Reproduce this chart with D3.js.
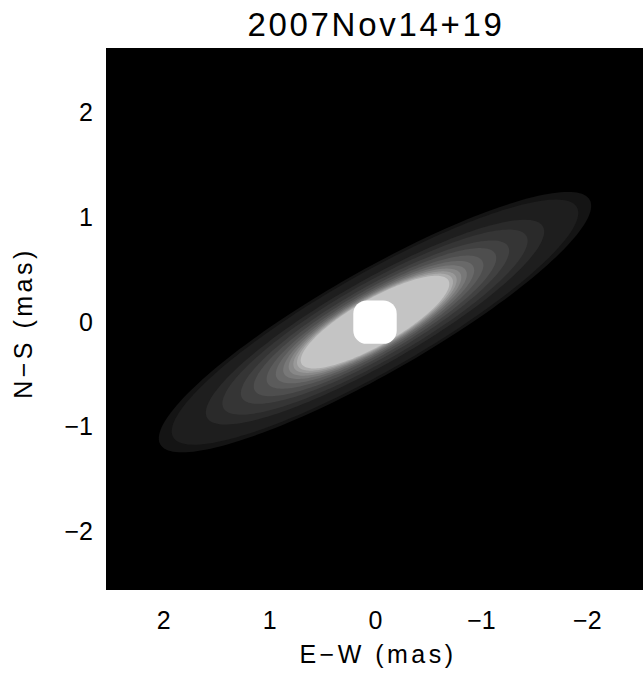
<!DOCTYPE html>
<html>
<head>
<meta charset="utf-8">
<script src="https://cdn.jsdelivr.net/npm/d3@7"></script>
<style>
  body { margin: 0; background: #fff; }
  text { font-family: "Liberation Sans", Arial, sans-serif; fill: #000; }
</style>
</head>
<body>
<div id="chart"></div>
<script>
const title = "2007Nov14+19";
const xLabel = "E−W (mas)";
const yLabel = "N−S (mas)";
const xTicks = [2, 1, 0, -1, -2];
const yTicks = [-2, -1, 0, 1, 2];
const xExtent = [2.54, -2.54];   // east to the left
const yExtent = [-2.56, 2.62];

// disk brightness levels, outermost first (semi axes in mas, grey 0-255)
const levelMajor = [2.34, 2.20, 1.83, 1.65, 1.45, 1.31, 1.17, 1.07, 0.99, 0.93, 0.88, 0.84, 0.80];
const levelMinor = [0.49, 0.465, 0.40, 0.37, 0.335, 0.31, 0.288, 0.272, 0.258, 0.247, 0.237, 0.228, 0.22];
const levelGray  = [20, 30, 42, 53, 65, 78, 91, 105, 120, 136, 153, 172, 196];
const diskPA = 120;        // position angle of major axis, deg east of north
const starRadius = 0.205;  // mas

const W = 643, H = 673;
const MARGIN = { TOP: 48, LEFT: 106 };
const PW = 538, PH = 542;

const svg = d3.select("#chart").append("svg")
    .attr("width", W)
    .attr("height", H)

const x = d3.scaleLinear().domain(xExtent).range([MARGIN.LEFT, MARGIN.LEFT + PW])
const y = d3.scaleLinear().domain(yExtent).range([MARGIN.TOP + PH, MARGIN.TOP])

// black image area
svg.append("rect")
    .attr("x", x(xExtent[0]))
    .attr("y", y(yExtent[1]))
    .attr("width", x(xExtent[1]) - x(xExtent[0]))
    .attr("height", y(yExtent[0]) - y(yExtent[1]))
    .attr("fill", "#000")

svg.append("clipPath").attr("id", "plotclip")
    .append("rect")
    .attr("x", MARGIN.LEFT).attr("y", MARGIN.TOP)
    .attr("width", PW).attr("height", PH)

const plot = svg.append("g").attr("clip-path", "url(#plotclip)")

// unit vectors of the disk axes in (east, north)
const pa = diskPA * Math.PI / 180
const mj = [Math.sin(pa), Math.cos(pa)]
const mn = [Math.cos(pa), -Math.sin(pa)]

const angles = d3.range(0, 360, 2).map(d => d * Math.PI / 180)
const line = d3.line()
    .x(p => x(p[0]))
    .y(p => y(p[1]))
    .curve(d3.curveLinearClosed)

const ellipse = (a, b) => angles.map(t => [
    a * Math.cos(t) * mj[0] + b * Math.sin(t) * mn[0],
    a * Math.cos(t) * mj[1] + b * Math.sin(t) * mn[1]
])

plot.selectAll("path.level")
    .data(levelMajor)
    .enter().append("path")
    .attr("class", "level")
    .attr("d", (a, i) => line(ellipse(a, levelMinor[i])))
    .attr("fill", (a, i) => d3.rgb(levelGray[i], levelGray[i], levelGray[i]))

// the star
const sr = x(0) - x(starRadius)
plot.append("rect")
    .attr("x", x(0) - sr)
    .attr("y", y(0) - sr)
    .attr("width", 2 * sr)
    .attr("height", 2 * sr)
    .attr("rx", sr * 0.62)
    .attr("fill", "#fff")

// axes (ticks are lost in the black, only labels show)
const fmt = d3.format("d")

const xAxis = svg.append("g")
    .attr("transform", "translate(0," + (MARGIN.TOP + PH) + ")")
    .call(d3.axisBottom(x).tickValues(xTicks).tickFormat(fmt).tickSize(0).tickPadding(21))
xAxis.select(".domain").remove()
xAxis.selectAll("text").style("font-size", "25px").attr("font-family", null)

const yAxis = svg.append("g")
    .attr("transform", "translate(" + MARGIN.LEFT + ",0)")
    .call(d3.axisLeft(y).tickValues(yTicks).tickFormat(fmt).tickSize(0).tickPadding(13))
yAxis.select(".domain").remove()
yAxis.selectAll("text").style("font-size", "25px").attr("font-family", null)

svg.append("text")
    .attr("x", 376)
    .attr("y", 36)
    .attr("text-anchor", "middle")
    .style("font-size", "33px")
    .style("letter-spacing", "2.7px")
    .text(title)

svg.append("text")
    .attr("x", 378)
    .attr("y", 663)
    .attr("text-anchor", "middle")
    .style("font-size", "25px")
    .style("letter-spacing", "3.5px")
    .text(xLabel)

svg.append("text")
    .attr("transform", "translate(32,323) rotate(-90)")
    .attr("text-anchor", "middle")
    .style("font-size", "25px")
    .style("letter-spacing", "3.5px")
    .text(yLabel)
</script>
</body>
</html>
